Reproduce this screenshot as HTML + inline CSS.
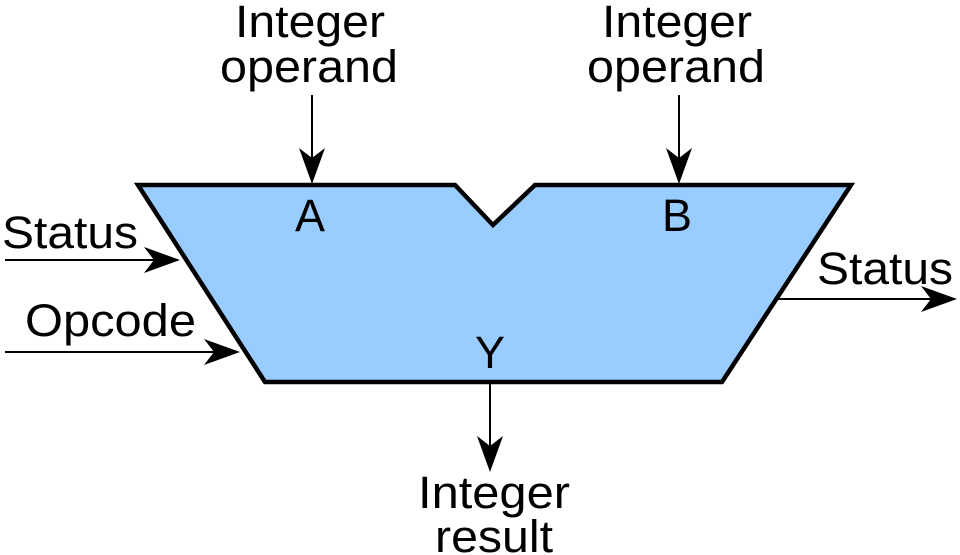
<!DOCTYPE html>
<html><head><style>html,body{margin:0;padding:0;background:#fff}svg{display:block}</style></head>
<body>
<svg width="960" height="555" viewBox="0 0 960 555" xmlns="http://www.w3.org/2000/svg">
<defs>
<path id="ah" d="M0,0 L-13,-36 L0,-26 L13,-36 Z" fill="#000"/>
</defs>
<polygon points="138,185 455,185 493,225 535,185 851,185 722,382 265,382" fill="#99ccff" stroke="#000" stroke-width="4.5" stroke-linejoin="miter"/>
<g stroke="#000" stroke-width="2" fill="none">
<line x1="312" y1="95" x2="312" y2="160"/>
<line x1="679" y1="95" x2="679" y2="160"/>
<line x1="5" y1="260" x2="160" y2="260"/>
<line x1="5" y1="352" x2="220" y2="352"/>
<line x1="775" y1="299" x2="935" y2="299"/>
<line x1="490" y1="382" x2="490" y2="450"/>
</g>
<use href="#ah" transform="translate(312,184)"/>
<use href="#ah" transform="translate(679,184)"/>
<use href="#ah" transform="translate(180,260) rotate(-90)"/>
<use href="#ah" transform="translate(240,352) rotate(-90)"/>
<use href="#ah" transform="translate(957,299) rotate(-90)"/>
<use href="#ah" transform="translate(490,472)"/>
<g font-family="Liberation Sans, sans-serif" font-size="45" fill="#000">
<text x="235" y="37" textLength="150" lengthAdjust="spacingAndGlyphs">Integer</text>
<text x="220" y="82" textLength="178" lengthAdjust="spacingAndGlyphs">operand</text>
<text x="602" y="37" textLength="150" lengthAdjust="spacingAndGlyphs">Integer</text>
<text x="587" y="82" textLength="178" lengthAdjust="spacingAndGlyphs">operand</text>
<text x="310" y="231" text-anchor="middle">A</text>
<text x="677" y="231" text-anchor="middle">B</text>
<text x="490" y="368" text-anchor="middle">Y</text>
<text x="2" y="248" textLength="136" lengthAdjust="spacingAndGlyphs">Status</text>
<text x="25" y="336" textLength="171" lengthAdjust="spacingAndGlyphs">Opcode</text>
<text x="817" y="284" textLength="136" lengthAdjust="spacingAndGlyphs">Status</text>
<text x="418" y="508" textLength="152" lengthAdjust="spacingAndGlyphs">Integer</text>
<text x="435" y="552" textLength="118" lengthAdjust="spacingAndGlyphs">result</text>
</g>
</svg>
</body></html>
